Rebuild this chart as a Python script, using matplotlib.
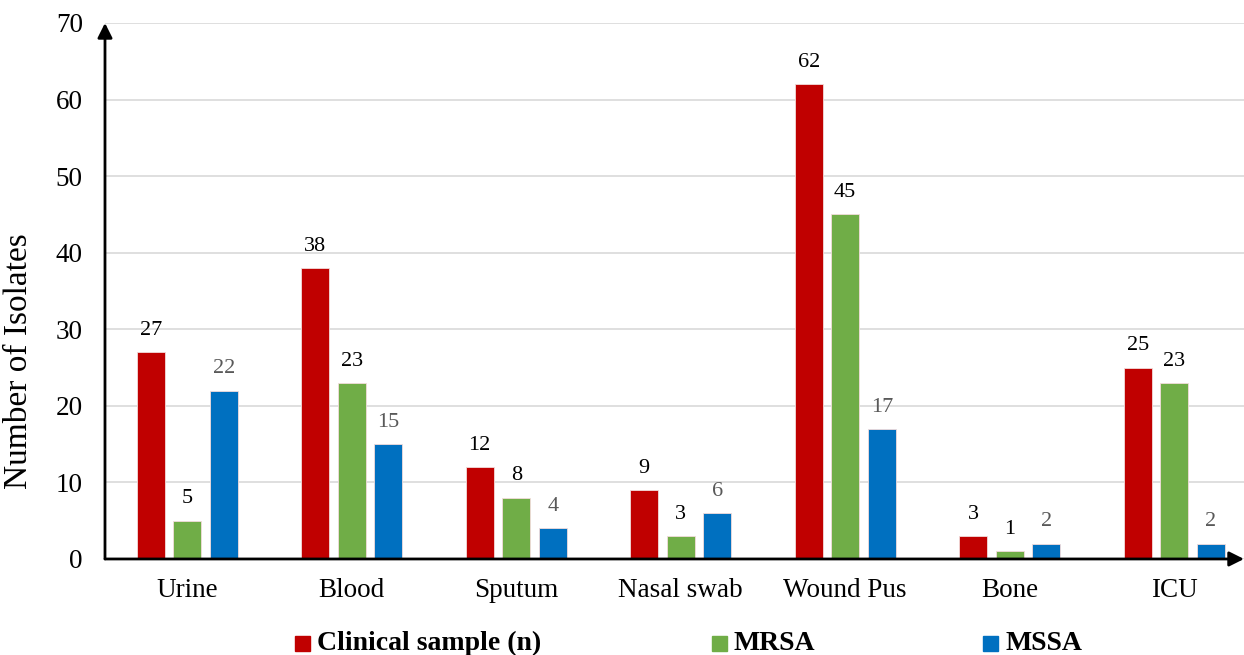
import matplotlib
matplotlib.use('Agg')
import matplotlib.pyplot as plt
from matplotlib.patches import Rectangle
import numpy as np

plt.rcParams['font.family'] = ['Liberation Serif', 'DejaVu Serif']

categories = ['Urine', 'Blood', 'Sputum', 'Nasal swab', 'Wound Pus', 'Bone', 'ICU']
clinical = [27, 38, 12, 9, 62, 3, 25]
mrsa = [5, 23, 8, 3, 45, 1, 23]
mssa = [22, 15, 4, 6, 17, 2, 2]

series = [('Clinical sample (n)', clinical, '#c00000', 'black'),
          ('MRSA', mrsa, '#70ad47', 'black'),
          ('MSSA', mssa, '#0070c0', '#595959')]

fig = plt.figure(figsize=(12.44, 6.55), dpi=100)
ax = fig.add_axes([0.0844, 0.1466, 0.9156, 0.8183])

x = np.arange(len(categories))
w = 0.17
offs = [-0.222, 0, 0.222]
for (name, vals, col, tcol), off in zip(series, offs):
    bars = ax.bar(x + off, vals, w, color=col, edgecolor='#f2dcdb', linewidth=0.6,
                  label=name, zorder=3)
    for b, v in zip(bars, vals):
        ax.text(b.get_x() + b.get_width() / 2, v + 1.6, str(v), ha='center',
                va='bottom', fontsize=16, color=tcol)

ax.set_xlim(-0.5, 6.424)
ax.set_ylim(0, 70)
ax.set_yticks(range(0, 71, 10))
ax.yaxis.grid(True, color='#d9d9d9', linewidth=1.2, zorder=0)
ax.set_xticks(x)
ax.set_xticklabels(categories, fontsize=19.5)
ax.tick_params(axis='y', labelsize=19.5, length=0, pad=16)
ax.tick_params(axis='x', length=0, pad=14)
ax.set_ylabel('Number of Isolates', fontsize=24)
ax.yaxis.set_label_coords(-0.0625, 0.37)

for s in ax.spines.values():
    s.set_visible(False)

# axis lines with arrow heads
ax.annotate('', xy=(0, 1.0), xytext=(0, 0), xycoords='axes fraction',
            arrowprops=dict(arrowstyle='-|>', color='black', lw=2, mutation_scale=22,
                            shrinkA=0, shrinkB=0))
ax.annotate('', xy=(1.0, 0), xytext=(0, 0), xycoords='axes fraction',
            arrowprops=dict(arrowstyle='-|>', color='black', lw=2, mutation_scale=22,
                            shrinkA=0, shrinkB=0))

# legend at the bottom, entries placed by hand
W, H = 1244, 655
leg_x = [295, 712, 983]
for (name, vals, col, tcol), lx in zip(series, leg_x):
    fig.patches.append(Rectangle((lx / W, (H - 651) / H), 15 / W, 15 / H,
                                 transform=fig.transFigure, color=col))
    fig.text((lx + 22) / W, (H - 650) / H, name, fontsize=20, fontweight='bold',
             ha='left', va='baseline')

fig.savefig('out.png', dpi=100)
